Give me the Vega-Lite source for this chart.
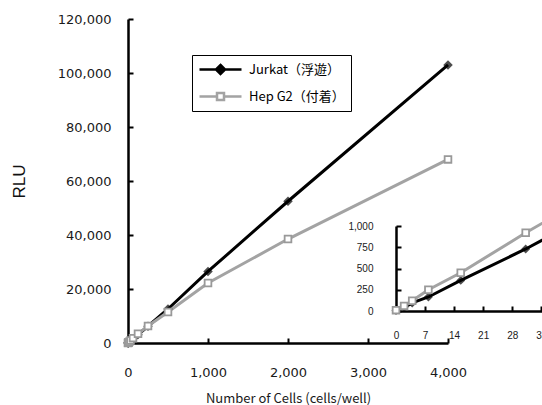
{
  "$schema": "https://vega.github.io/schema/vega-lite/v6.json",
  "autosize": {"type": "none"},
  "width": 320,
  "height": 324,
  "padding": {"left": 128, "top": 19, "right": 94, "bottom": 62},
  "background": "white",
  "config": {"view": {"stroke": null}},
  "data": {"values": [
    {"line": "Jurkat（浮遊）", "cells": 0, "rlu": 5},
    {"line": "Jurkat（浮遊）", "cells": 1.95, "rlu": 40},
    {"line": "Jurkat（浮遊）", "cells": 3.9, "rlu": 95},
    {"line": "Jurkat（浮遊）", "cells": 7.8, "rlu": 165},
    {"line": "Jurkat（浮遊）", "cells": 15.6, "rlu": 360},
    {"line": "Jurkat（浮遊）", "cells": 31.25, "rlu": 730},
    {"line": "Jurkat（浮遊）", "cells": 62.5, "rlu": 1550},
    {"line": "Jurkat（浮遊）", "cells": 125, "rlu": 3100},
    {"line": "Jurkat（浮遊）", "cells": 250, "rlu": 6200},
    {"line": "Jurkat（浮遊）", "cells": 500, "rlu": 12600},
    {"line": "Jurkat（浮遊）", "cells": 1000, "rlu": 26500},
    {"line": "Jurkat（浮遊）", "cells": 2000, "rlu": 52500},
    {"line": "Jurkat（浮遊）", "cells": 4000, "rlu": 103000},
    {"line": "Hep G2（付着）", "cells": 0, "rlu": 10},
    {"line": "Hep G2（付着）", "cells": 1.95, "rlu": 60},
    {"line": "Hep G2（付着）", "cells": 3.9, "rlu": 120},
    {"line": "Hep G2（付着）", "cells": 7.8, "rlu": 250},
    {"line": "Hep G2（付着）", "cells": 15.6, "rlu": 450},
    {"line": "Hep G2（付着）", "cells": 31.25, "rlu": 920},
    {"line": "Hep G2（付着）", "cells": 62.5, "rlu": 1800},
    {"line": "Hep G2（付着）", "cells": 125, "rlu": 3400},
    {"line": "Hep G2（付着）", "cells": 250, "rlu": 6300},
    {"line": "Hep G2（付着）", "cells": 500, "rlu": 11500},
    {"line": "Hep G2（付着）", "cells": 1000, "rlu": 22200},
    {"line": "Hep G2（付着）", "cells": 2000, "rlu": 38500},
    {"line": "Hep G2（付着）", "cells": 4000, "rlu": 68000}
  ]},
  "resolve": {"scale": {"x": "independent", "y": "independent"}},
  "layer": [
    {
      "encoding": {
        "x": {"field": "cells", "type": "quantitative",
          "scale": {"domain": [0, 4000], "nice": false, "zero": true},
          "axis": {"values": [0, 1000, 2000, 3000, 4000], "format": ",d", "grid": false,
            "title": "Number of Cells (cells/well)",
            "tickSize": -5, "tickWidth": 2, "tickColor": "black",
            "domainColor": "black", "domainWidth": 2.5,
            "labelFont": "DejaVu Sans", "labelFontSize": 13, "labelColor": "#1a1a1a", "labelPadding": 28, "labelFlush": false,
            "titleFont": "Noto Sans CJK JP", "titleFontSize": 13, "titleFontWeight": "normal", "titleColor": "#1a1a1a", "titlePadding": 13}},
        "y": {"field": "rlu", "type": "quantitative",
          "scale": {"domain": [0, 120000], "nice": false},
          "axis": {"values": [0, 20000, 40000, 60000, 80000, 100000, 120000], "format": ",d", "grid": false,
            "title": "RLU",
            "tickSize": -5, "tickWidth": 2, "tickColor": "black",
            "domainColor": "black", "domainWidth": 2.5,
            "labelFont": "DejaVu Sans", "labelFontSize": 13, "labelColor": "#1a1a1a", "labelPadding": 22, "labelFlush": false,
            "titleFont": "Liberation Sans", "titleFontSize": 17, "titleFontWeight": "normal", "titleColor": "#111", "titlePadding": 29}}
      },
      "layer": [
        {"mark": {"type": "line", "strokeWidth": 3},
         "encoding": {
           "stroke": {"field": "line", "type": "nominal",
             "scale": {"domain": ["Jurkat（浮遊）", "Hep G2（付着）"], "range": ["black", "#a3a3a3"]},
             "legend": {"orient": "none", "legendX": 64, "legendY": 36, "title": null,
               "strokeColor": "black", "fillColor": "white", "padding": 6, "cornerRadius": 0,
               "symbolSize": 196, "symbolStrokeWidth": 2.5,
               "labelFont": "Noto Sans CJK JP", "labelFontSize": 13, "labelColor": "black", "labelOffset": 34,
               "rowPadding": 8,
               "encode": {"symbols": {"update": {
                 "shape": {"signal": "datum.value === 'Jurkat（浮遊）' ? 'M-1,0H5M2,-0.65L2.65,0L2,0.65L1.35,0Z' : 'M-1,0H1.5M2.5,0H5M1.5,-0.5H2.5V0.5H1.5Z'"},
                 "fill": {"signal": "datum.value === 'Jurkat（浮遊）' ? 'black' : 'white'"}}}}}}
         }},
        {"transform": [{"filter": {"field": "line", "equal": "Jurkat（浮遊）"}}],
         "mark": {"type": "point", "shape": "diamond", "filled": true, "color": "black", "size": 90}},
        {"transform": [{"filter": {"field": "line", "equal": "Hep G2（付着）"}}],
         "mark": {"type": "point", "shape": "square", "filled": false, "fill": "white", "stroke": "#999999", "strokeWidth": 1.8, "size": 45, "opacity": 1}}
      ]
    },
    {
      "transform": [{"filter": {"field": "cells", "lte": 63}}],
      "encoding": {
        "x": {"field": "cells", "type": "quantitative",
          "scale": {"domain": [0, 42], "nice": false, "range": [268, 442.3]},
          "axis": {"orient": "bottom", "offset": -32, "values": [0, 7, 14, 21, 28, 35, 42], "grid": false, "title": null,
            "tickSize": -5, "tickWidth": 2, "tickColor": "black",
            "domainColor": "black", "domainWidth": 2.5,
            "labelFont": "Liberation Sans", "labelFontSize": 10, "labelColor": "#1a1a1a", "labelPadding": 24, "labelFlush": false}},
        "y": {"field": "rlu", "type": "quantitative",
          "scale": {"domain": [0, 1000], "nice": false, "range": [292, 207]},
          "axis": {"orient": "left", "offset": -268, "values": [0, 250, 500, 750, 1000], "format": ",d", "grid": false, "title": null,
            "tickSize": -5, "tickWidth": 2, "tickColor": "black",
            "domainColor": "black", "domainWidth": 2.5,
            "labelFont": "Liberation Sans", "labelFontSize": 10, "labelColor": "#1a1a1a", "labelPadding": 28, "labelFlush": false}}
      },
      "layer": [
        {"transform": [{"filter": {"field": "line", "equal": "Jurkat（浮遊）"}}],
         "mark": {"type": "line", "strokeWidth": 3, "color": "black"}},
        {"transform": [{"filter": {"field": "line", "equal": "Hep G2（付着）"}}],
         "mark": {"type": "line", "strokeWidth": 3, "color": "#a3a3a3"}},
        {"transform": [{"filter": {"field": "line", "equal": "Jurkat（浮遊）"}}],
         "mark": {"type": "point", "shape": "diamond", "filled": true, "color": "black", "size": 80}},
        {"transform": [{"filter": {"field": "line", "equal": "Hep G2（付着）"}}],
         "mark": {"type": "point", "shape": "square", "filled": false, "fill": "white", "stroke": "#999999", "strokeWidth": 1.8, "size": 45, "opacity": 1}}
      ]
    }
  ]
}
